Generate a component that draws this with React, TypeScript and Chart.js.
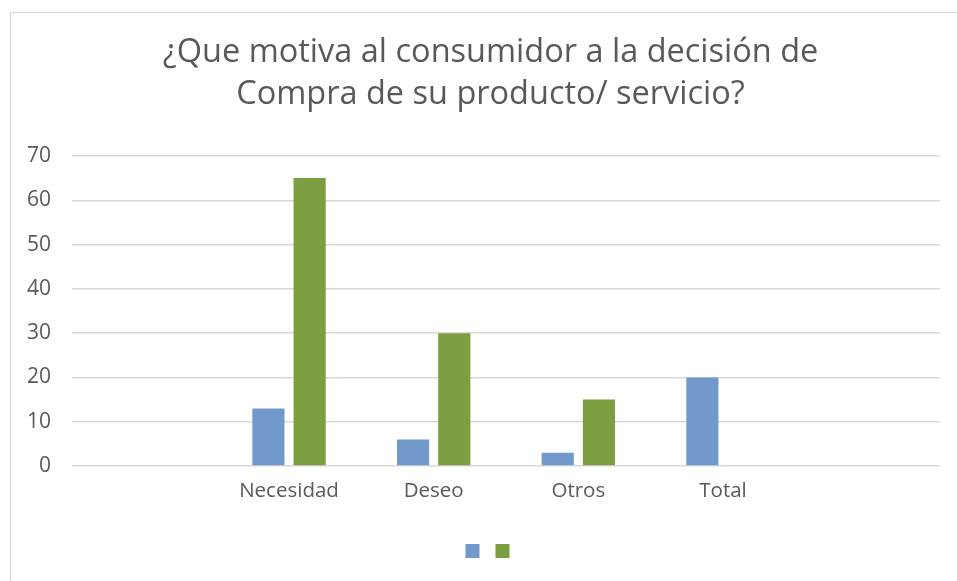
import React, { useEffect, useRef } from "react";
import { Chart, registerables } from "chart.js";
Chart.register(...registerables);

const categories = ["", "Necesidad", "Deseo", "Otros", "Total", ""];
const seriesA = [null, 13, 6, 3, 20, null];
const seriesB = [null, 65, 30, 15, null, null];
const yMax = 70;
const yStep = 10;

const FONT = "'Open Sans', 'Liberation Sans', sans-serif";
const TEXT = "#595959";

export default function App() {
  const ref = useRef<HTMLCanvasElement>(null);
  useEffect(() => {
    document.body.style.overflow = "hidden";
    const chart = new Chart(ref.current!, {
      type: "bar",
      data: {
        labels: categories,
        datasets: [
          { label: "", data: seriesA, backgroundColor: "#7299CB", barPercentage: 0.78, categoryPercentage: 0.57 },
          { label: "", data: seriesB, backgroundColor: "#7D9D41", barPercentage: 0.78, categoryPercentage: 0.57 },
        ],
      },
      options: {
        animation: false,
        responsive: false,
        maintainAspectRatio: false,
        layout: { padding: { left: 0, right: 0, top: 0, bottom: 13 } },
        plugins: {
          title: {
            display: true,
            text: ["¿Que motiva al consumidor a la decisión de", "Compra de su producto/ servicio?"],
            color: TEXT,
            font: { family: FONT, size: 32.5, weight: "normal", lineHeight: 1.292 },
            padding: { top: 19, bottom: 40 },
          },
          legend: {
            display: true,
            position: "bottom",
            labels: { boxWidth: 14, boxHeight: 14, font: { family: FONT, size: 12 }, padding: 10, color: TEXT },
          },
          tooltip: { enabled: false },
        },
        scales: {
          x: {
            grid: { display: false },
            border: { display: false },
            ticks: { color: TEXT, font: { family: FONT, size: 20.5 }, padding: 5, autoSkip: false, maxRotation: 0 },
            afterFit: (s: any) => { s.height = 68; },
          },
          y: {
            min: 0,
            max: yMax,
            grid: { color: "#D9D9D9", lineWidth: 1.5, drawTicks: false },
            border: { display: false },
            ticks: { stepSize: yStep, color: TEXT, font: { family: FONT, size: 21 }, padding: 21 },
          },
          yPad: {
            position: "right",
            display: true,
            grid: { display: false, drawTicks: false },
            border: { display: false },
            ticks: { display: false },
            afterFit: (s: any) => { s.width = 35; },
          },
        },
      },
    });
    return () => chart.destroy();
  }, []);
  return (
    <div style={{ position: "fixed", left: 0, top: 0, width: 957, height: 581, overflow: "hidden", background: "#fff" }}>
      <div style={{ position: "absolute", left: 10, top: 12, width: 1000, height: 650, border: "1px solid #D9D9D9" }}>
        <canvas ref={ref} width={969} height={568} style={{ display: "block", position: "absolute", left: -5, top: 0 }} />
      </div>
    </div>
  );
}
